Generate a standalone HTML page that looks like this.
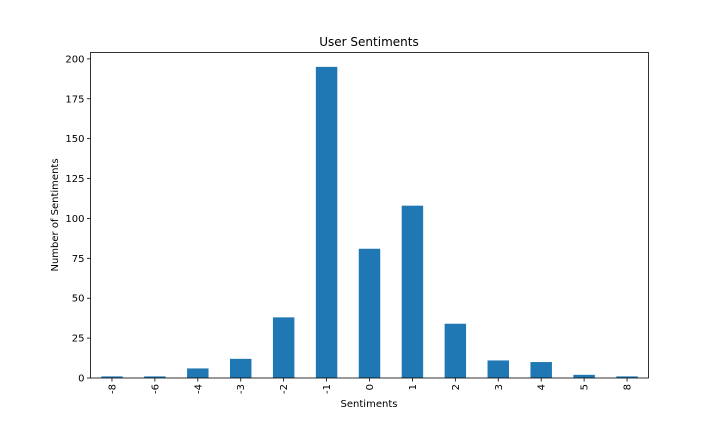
<!DOCTYPE html>
<html><head><meta charset="utf-8"><style>
html,body{margin:0;padding:0;background:#fff;}
svg{display:block;font-family:"DejaVu Sans","Liberation Sans",sans-serif;}
</style></head><body>
<svg id="chart" width="720" height="432" viewBox="0 0 720 432">
<text x="369" y="46" font-size="12" text-anchor="middle">User Sentiments</text>
<text x="369" y="407" font-size="10" text-anchor="middle">Sentiments</text>
<text transform="translate(58,215) rotate(-90)" font-size="10" text-anchor="middle">Number of Sentiments</text>
<g id="bars"></g><g id="xticks"></g><g id="yticks"></g>
<rect x="90.5" y="52.5" width="558" height="325.5" fill="none" stroke="#000" stroke-width="0.8"/>
</svg>
<script>
const categories = ["-8","-6","-4","-3","-2","-1","0","1","2","3","4","5","8"];
const counts = [1,1,6,12,38,195,81,108,34,11,10,2,1];
const yTicks = [0,25,50,75,100,125,150,175,200];
const L=90.5,R=648.5,T=52.5,B=378;
const yMax=204;
const NS="http://www.w3.org/2000/svg";
function yS(v){return B-(v/yMax)*(B-T);}
function xS(i){return L+(i+0.5)*(R-L)/categories.length;}
const bw=0.5*(R-L)/categories.length;
const bars=document.getElementById('bars'),xt=document.getElementById('xticks'),yt=document.getElementById('yticks');
categories.forEach((c,i)=>{
  const r=document.createElementNS(NS,'rect');
  r.setAttribute('x',xS(i)-bw/2);r.setAttribute('y',yS(counts[i]));
  r.setAttribute('width',bw);r.setAttribute('height',B-yS(counts[i]));r.setAttribute('fill','#1f77b4');
  
  
  bars.appendChild(r);
  const l=document.createElementNS(NS,'line');
  l.setAttribute('x1',xS(i));l.setAttribute('x2',xS(i));l.setAttribute('y1',B);l.setAttribute('y2',B+3.5);l.setAttribute('stroke','#000');l.setAttribute('stroke-width','0.8');
  
  
  xt.appendChild(l);
  const t=document.createElementNS(NS,'text');
  t.setAttribute('transform','translate('+(xS(i)+3.5)+','+(B+6)+') rotate(-90)');
  t.setAttribute('font-size','10');t.setAttribute('text-anchor','end');t.textContent=c;
  
  
  xt.appendChild(t);
});
yTicks.forEach(v=>{
  const y=yS(v);
  const l=document.createElementNS(NS,'line');
  l.setAttribute('x1',L-3.5);l.setAttribute('x2',L);l.setAttribute('y1',y);l.setAttribute('y2',y);l.setAttribute('stroke','#000');l.setAttribute('stroke-width','0.8');
  
  
  yt.appendChild(l);
  const t=document.createElementNS(NS,'text');
  t.setAttribute('x',L-6);t.setAttribute('y',y+3.5);t.setAttribute('font-size','10');t.setAttribute('text-anchor','end');t.textContent=v;
  
  
  yt.appendChild(t);
});
</script>
</body></html>
